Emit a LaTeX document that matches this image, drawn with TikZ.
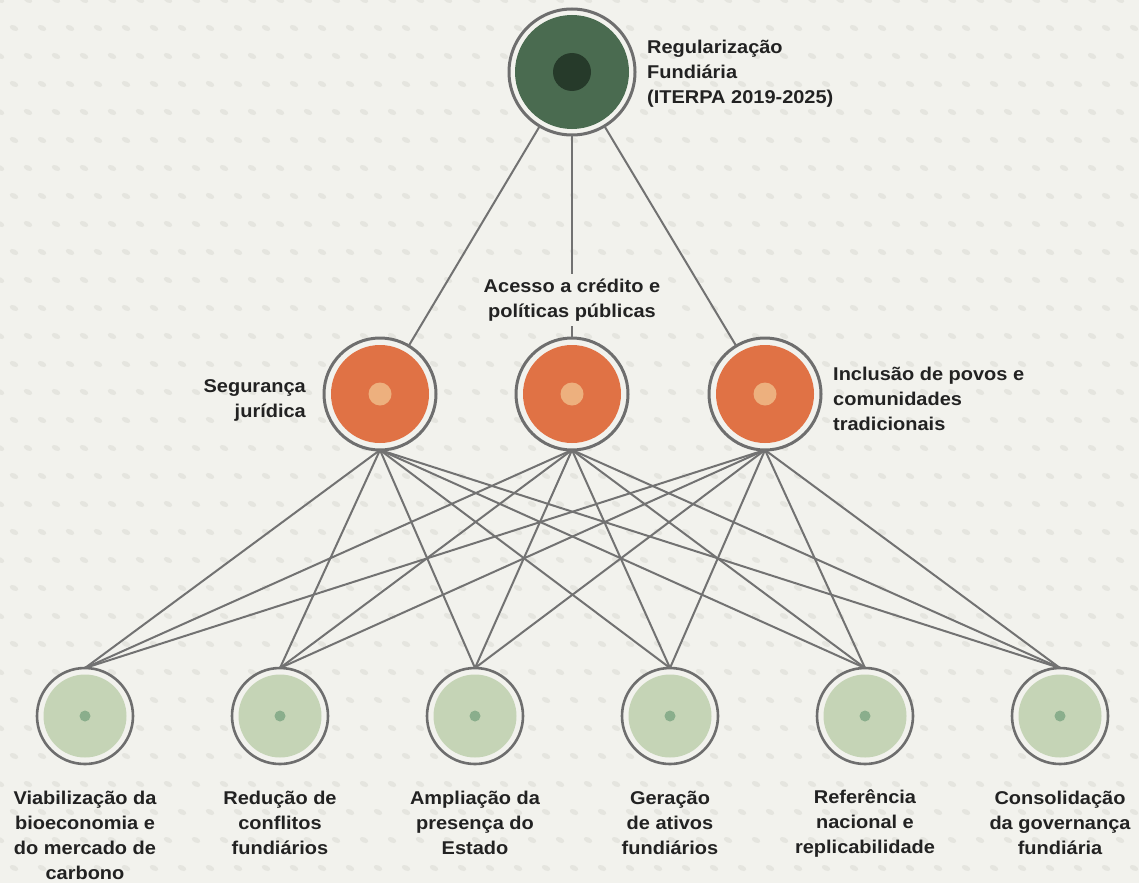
\documentclass[tikz,border=0pt]{standalone}
\usepackage{fontspec}
\setmainfont{Liberation Sans}[FakeStretch=1.08]
\definecolor{bg}{HTML}{F2F2ED}
\definecolor{bgdot}{HTML}{E5E5DF}
\definecolor{ring}{HTML}{6E6E6E}
\definecolor{wire}{HTML}{727272}
\definecolor{dkgreen}{HTML}{4A6B50}
\definecolor{dkcore}{HTML}{263A2A}
\definecolor{orangefill}{HTML}{E07245}
\definecolor{orangecore}{HTML}{EDB07E}
\definecolor{ltgreen}{HTML}{C5D4B6}
\definecolor{ltcore}{HTML}{8AAE8C}
\definecolor{txt}{HTML}{222222}
\tikzset{
  ringbase/.style={circle, draw=ring, line width=3pt, fill=bg, inner sep=0pt, outer sep=0pt},
  topnode/.style={ringbase, minimum size=126pt,
    path picture={\fill[dkgreen] (path picture bounding box.center) circle (57pt);
                  \fill[dkcore] (path picture bounding box.center) circle (19pt);}},
  midnode/.style={ringbase, minimum size=112pt,
    path picture={\fill[orangefill] (path picture bounding box.center) circle (49pt);
                  \fill[orangecore] (path picture bounding box.center) circle (11.5pt);}},
  botnode/.style={ringbase, minimum size=96pt, line width=2.6pt,
    path picture={\fill[ltgreen] (path picture bounding box.center) circle (41.5pt);
                  \fill[ltcore] (path picture bounding box.center) circle (5.5pt);}},
  wireline/.style={draw=wire, line width=2pt},
  lbl/.style={text=txt, inner sep=0pt, font=\fontsize{18.5}{25}\selectfont\bfseries},
}
\begin{document}
\begin{tikzpicture}[x=1pt,y=-1pt]
\fill[bg] (0,0) rectangle (1139,883);
\useasboundingbox (0,0) rectangle (1139,883);
% faint background dots
\foreach \r in {0,...,32}{
  \foreach \c in {0,...,41}{
    \pgfmathsetmacro{\xx}{\c*28 + mod(\r,2)*14}
    \pgfmathsetmacro{\yy}{\r*28}
    \fill[bgdot, rotate around={-25:(\xx,\yy)}] (\xx,\yy) ellipse (4.5pt and 2.6pt);
  }
}
% nodes
\node[topnode] (top) at (572,72) {};
\node[midnode] (m1) at (380,394) {};
\node[midnode] (m2) at (572,394) {};
\node[midnode] (m3) at (765,394) {};
\foreach \i/\x in {1/85,2/280,3/475,4/670,5/865,6/1060}{
  \node[botnode] (b\i) at (\x,716) {};
}
% connectors
\draw[wireline] (top) -- (m1);
\draw[wireline] (top) -- (m2);
\draw[wireline] (top) -- (m3);
\foreach \m in {1,2,3}{
  \foreach \b in {1,...,6}{
    \draw[wireline] (m\m.south) -- (b\b.north);
  }
}
% labels
\node[lbl, anchor=west, align=left] (ltop) at (647,74) {Regularização\\Fundiária\\(ITERPA 2019-2025)};
\node[lbl, anchor=east, align=right] (lm1) at (306,400) {Segurança\\jurídica};
\node[lbl, anchor=center, align=center, fill=bg, inner sep=5pt] (lm2) at (572,300) {Acesso a crédito e\\políticas públicas};
\node[lbl, anchor=west, align=left] (lm3) at (833,399) {Inclusão de povos e\\comunidades\\tradicionais};
\node[lbl, anchor=north, align=center] (lb1) at (85,791) {Viabilização da\\bioeconomia e\\do mercado de\\carbono};
\node[lbl, anchor=north, align=center] (lb2) at (280,791) {Redução de\\conflitos\\fundiários};
\node[lbl, anchor=north, align=center] (lb3) at (475,791) {Ampliação da\\presença do\\Estado};
\node[lbl, anchor=north, align=center] (lb4) at (670,791) {Geração\\de ativos\\fundiários};
\node[lbl, anchor=north, align=center] (lb5) at (865,789) {Referência\\nacional e\\replicabilidade};
\node[lbl, anchor=north, align=center] (lb6) at (1060,791) {Consolidação\\da governança\\fundiária};
\end{tikzpicture}
\end{document}
